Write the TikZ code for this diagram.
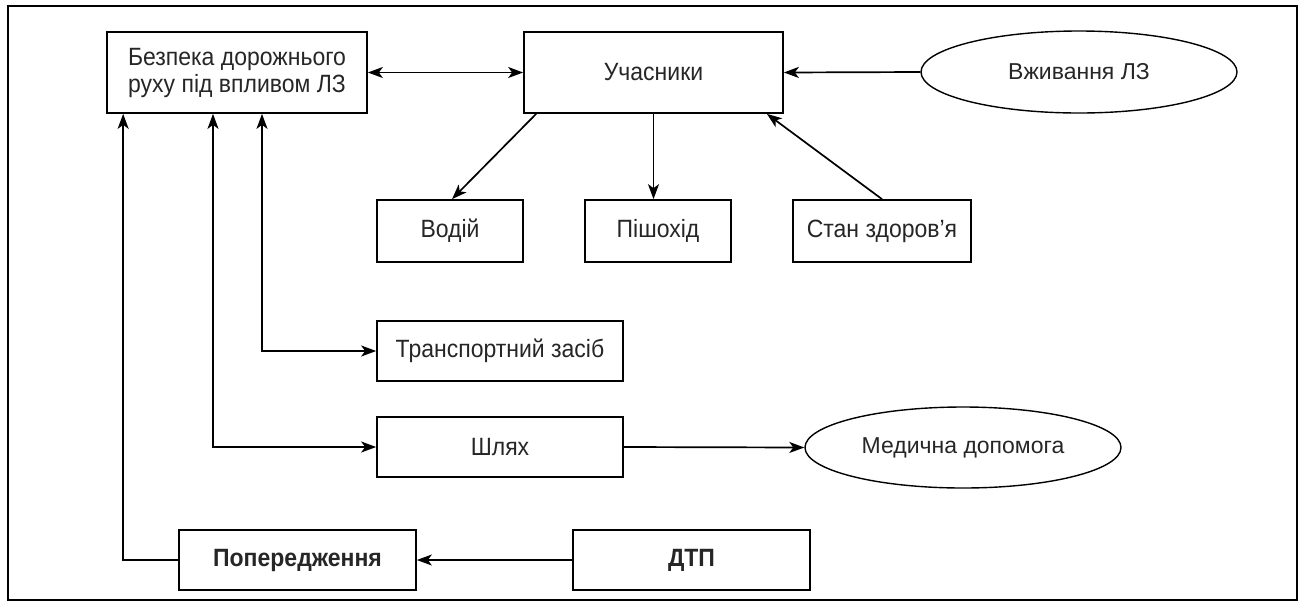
\documentclass[tikz,border=0pt]{standalone}
\usepackage{fontspec}
\setmainfont{Liberation Sans}
\newfontfamily\narrowfont{Liberation Sans}[FakeStretch=0.92]
\usetikzlibrary{arrows.meta,shapes.geometric}
\begin{document}
\begin{tikzpicture}[x=1pt,y=-1pt,
  box/.style={draw, line width=1.7pt, rectangle, inner sep=0pt, align=center,
    font=\narrowfont\fontsize{25}{27}\selectfont, text=black!85},
  oval/.style={draw, ellipse, line width=1.4pt, inner sep=0pt,
    font=\fontsize{23}{25}\selectfont, text=black!85},
  conn/.style={line width=1.7pt, -{Stealth[length=15pt,width=11pt,inset=4pt]}},
  biconn/.style={line width=1.7pt, {Stealth[length=15pt,width=11pt,inset=4pt]}-{Stealth[length=15pt,width=11pt,inset=4pt]}}]
\useasboundingbox (0,0) rectangle (1301,606);
\draw[line width=1.7pt] (8,6) rectangle (1297,600);

\node[box, minimum width=260, minimum height=81] (bez) at (237,72.5) {Безпека дорожнього\\руху під впливом ЛЗ};
\node[box, minimum width=259, minimum height=81] (uch) at (653.5,72.5) {Учасники};
\node[oval, minimum width=316, minimum height=82] (vzh) at (1079,72) {Вживання ЛЗ};
\node[box, minimum width=146, minimum height=62] (vod) at (450,231) {Водій};
\node[box, minimum width=146, minimum height=62] (pish) at (658,231) {Пішохід};
\node[box, minimum width=178, minimum height=62] (stan) at (882,231) {Стан здоров’я};
\node[box, minimum width=246, minimum height=60] (tr) at (500,351) {Транспортний засіб};
\node[box, minimum width=246, minimum height=60] (shl) at (500,447) {Шлях};
\node[oval, minimum width=316, minimum height=81] (med) at (963,447.5) {Медична допомога};
\node[box, minimum width=237, minimum height=60] (pop) at (297.5,560) {\bfseries Попередження};
\node[box, minimum width=237, minimum height=60] (dtp) at (691.5,560) {\bfseries ДТП};

\draw[biconn] (bez.east) -- (uch.west);
\draw[conn] (vzh.west) -- (uch.east);
\draw[conn] ([xshift=13]uch.south west) -- ([xshift=2]vod.north);
\draw[conn] (uch.south) -- (uch.south |- pish.north);
\draw[conn] (stan.north) -- ([xshift=-17]uch.south east);
\draw[biconn] ([xshift=25]bez.south) |- (tr.west);
\draw[biconn] ([xshift=-24]bez.south) |- (shl.west);
\draw[conn] (pop.west) -| ([xshift=17]bez.south west);
\draw[conn] (shl.east) -- (med.west);
\draw[conn] (dtp.west) -- (pop.east);
\end{tikzpicture}
\end{document}
